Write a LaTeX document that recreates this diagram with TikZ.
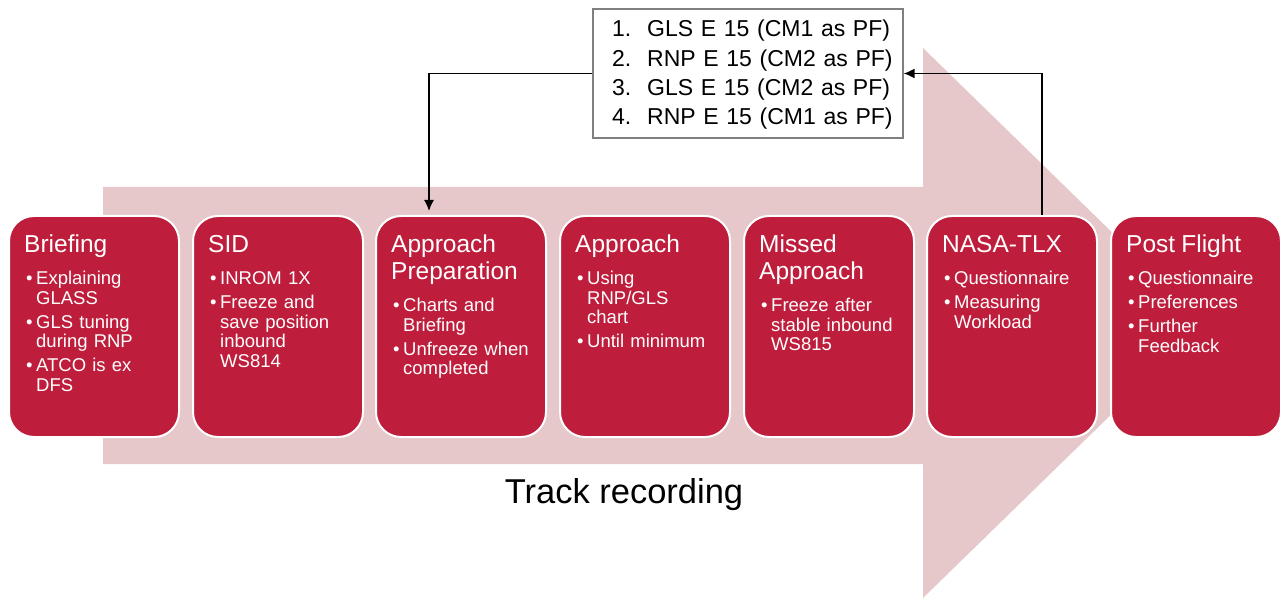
\documentclass[tikz,border=0pt]{standalone}
\usepackage{fontspec}
\setmainfont{Liberation Sans}
\usetikzlibrary{arrows.meta,calc}

\definecolor{stagered}{RGB}{190,30,60}
\definecolor{flowpink}{RGB}{230,200,203}
\definecolor{framegray}{RGB}{128,128,128}

% title of a stage, followed by the gap to its first point
\newcommand{\stagetitle}[1]{{\fontsize{24.5}{26.7}\selectfont #1\par}\vspace{12.5pt}}
% one bulleted point, continuation lines hang under the text
\newcommand{\bpoint}[1]{\hangindent=12pt\hangafter=1\noindent\hspace*{2pt}\makebox[10pt][l]{•}#1\par\vspace{4.5pt}}

\tikzset{
  stagebox/.style={rectangle, rounded corners=25pt, fill=stagered, draw=white,
    line width=2pt, minimum width=170pt, minimum height=221pt, inner sep=0pt},
  stagetext/.style={anchor=base west, text width=150pt, align=left, inner sep=0pt,
    text=white, font=\fontsize{18.5}{19.5}\selectfont},
  orderbox/.style={rectangle, fill=white, draw=framegray, line width=1.2pt,
    minimum width=310pt, minimum height=129pt, inner sep=0pt},
  link/.style={draw=black, line width=1.5pt, -{Latex[length=11pt,width=10pt]}},
}

\begin{document}
\begin{tikzpicture}[x=1pt,y=-1pt]
\useasboundingbox (0,0) rectangle (1282,601);

% big background arrow
\fill[flowpink] (103,187) -- (923,187) -- (923,48) -- (1205,323) -- (923,598)
  -- (923,464) -- (103,464) -- cycle;

% stage boxes
\foreach \i/\x in {1/9,2/193,3/376,4/560,5/744,6/927,7/1111}
  \node[stagebox] (b\i) at (\x+85,326.5) {};

\node[stagetext] (t1) at ($(b1.north west)+(16,38)$)
  {\stagetitle{Briefing}\bpoint{Explaining\newline GLASS}\bpoint{GLS tuning\newline during RNP}\bpoint{ATCO is ex\newline DFS}};
\node[stagetext] (t2) at ($(b2.north west)+(16,38)$)
  {\stagetitle{SID}\bpoint{INROM 1X}\bpoint{Freeze and\newline save position\newline inbound\newline WS814}};
\node[stagetext] (t3) at ($(b3.north west)+(16,38)$)
  {\stagetitle{Approach\newline Preparation}\bpoint{Charts and\newline Briefing}\bpoint{Unfreeze when\newline completed}};
\node[stagetext] (t4) at ($(b4.north west)+(16,38)$)
  {\stagetitle{Approach}\bpoint{Using\newline RNP/GLS\newline chart}\bpoint{Until minimum}};
\node[stagetext] (t5) at ($(b5.north west)+(16,38)$)
  {\stagetitle{Missed\newline Approach}\bpoint{Freeze after\newline stable inbound\newline WS815}};
\node[stagetext] (t6) at ($(b6.north west)+(16,38)$)
  {\stagetitle{NASA-TLX}\bpoint{Questionnaire}\bpoint{Measuring\newline Workload}};
\node[stagetext] (t7) at ($(b7.north west)+(16,38)$)
  {\stagetitle{Post Flight}\bpoint{Questionnaire}\bpoint{Preferences}\bpoint{Further\newline Feedback}};

% order of the approaches
\node[orderbox] (order) at (748,73.5) {};
\node[anchor=base west, text width=290pt, align=left, inner sep=0pt,
  font=\fontsize{23}{29.3}\selectfont] (orderlist) at (612,37)
  {\makebox[35pt][l]{1.}GLS E 15 (CM1 as PF)\\
   \makebox[35pt][l]{2.}RNP E 15 (CM2 as PF)\\
   \makebox[35pt][l]{3.}GLS E 15 (CM2 as PF)\\
   \makebox[35pt][l]{4.}RNP E 15 (CM1 as PF)};

% connectors
\draw[link, shorten >=4pt] (order.west) -| ([xshift=-32pt]b3.north);
\draw[link] ([xshift=30pt]b6.north) |- (order.east);

% caption under the arrow
\node[anchor=base, inner sep=0pt, font=\fontsize{34.5}{40}\selectfont] (track) at (624,503) {Track recording};
\end{tikzpicture}
\end{document}
